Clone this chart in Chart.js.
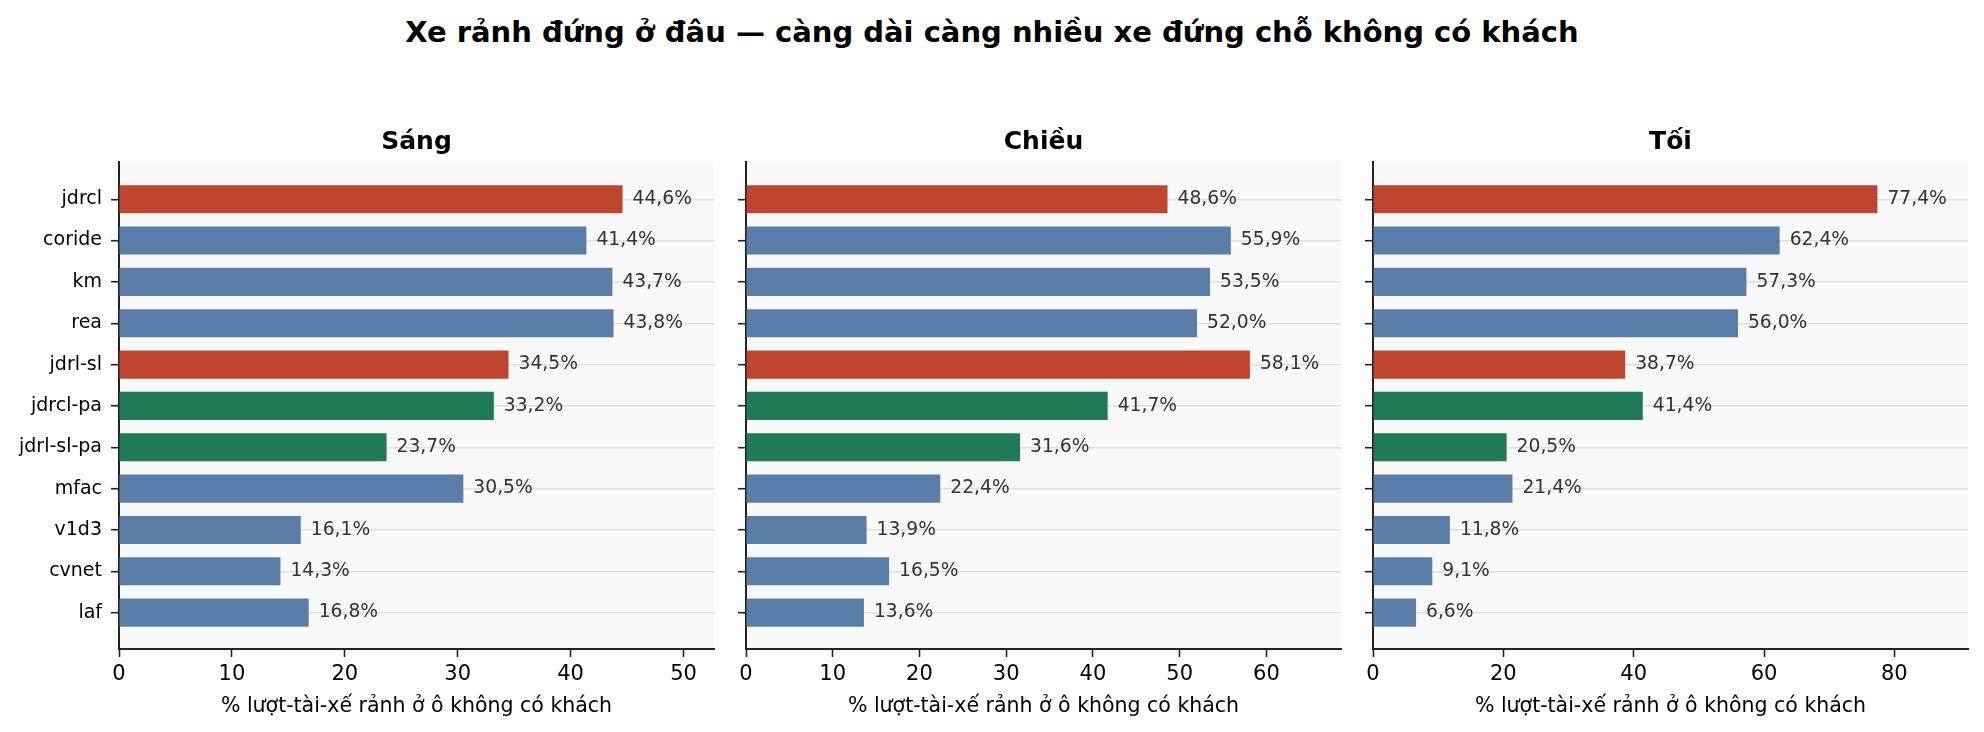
<!DOCTYPE html>
<html>
<head>
<meta charset="utf-8">
<script src="https://cdn.jsdelivr.net/npm/chart.js@4.4.1/dist/chart.umd.min.js"></script>
<style>
  html, body { margin: 0; padding: 0; background: #fff; }
  body { width: 1984px; height: 732px; position: relative; overflow: hidden; font-family: "DejaVu Sans", sans-serif; }
  #suptitle { position: absolute; left: 0; width: 1984px; top: 14px; text-align: center; font-weight: bold; font-size: 29px; line-height: 36px; color: #000; }
  canvas { position: absolute; top: 100px; }
</style>
</head>
<body>
<div id="suptitle">Xe rảnh đứng ở đâu — càng dài càng nhiều xe đứng chỗ không có khách</div>
<canvas id="c0"></canvas>
<canvas id="c1"></canvas>
<canvas id="c2"></canvas>
<script>
// data
const cats = ['jdrcl', 'coride', 'km', 'rea', 'jdrl-sl', 'jdrcl-pa', 'jdrl-sl-pa', 'mfac', 'v1d3', 'cvnet', 'laf'];
const sang  = [44.6, 41.4, 43.7, 43.8, 34.5, 33.2, 23.7, 30.5, 16.1, 14.3, 16.8];
const chieu = [48.6, 55.9, 53.5, 52.0, 58.1, 41.7, 31.6, 22.4, 13.9, 16.5, 13.6];
const toi   = [77.4, 62.4, 57.3, 56.0, 38.7, 41.4, 20.5, 21.4, 11.8, 9.1, 6.6];
const panelTitles = ['Sáng', 'Chiều', 'Tối'];
const xMax = [52.7, 68.6, 91.3];
const xStep = [10, 10, 20];
const redCats = ['jdrcl', 'jdrl-sl'];
const greenCats = ['jdrcl-pa', 'jdrl-sl-pa'];
const xTitle = '% lượt-tài-xế rảnh ở ô không có khách';

const RED = '#c0452f', GREEN = '#217a56', BLUE = '#5b7ea8';
function barColor(c) {
  if (redCats.includes(c)) return RED;
  if (greenCats.includes(c)) return GREEN;
  return BLUE;
}

Chart.defaults.font.family = '"DejaVu Sans", sans-serif';
Chart.defaults.color = '#000';

// layout of the three panels (plot area, px)
const plotLeft = [119, 746, 1373];
const plotWidth = 595;
const yAxisW = [119, 24, 24];
const canvasH = 632;      // canvas starts at y=100
const areaTop = 62, areaBottom = 549;

const plotBg = {
  id: 'plotBg',
  beforeDraw(chart) {
    const { ctx, chartArea: a } = chart;
    ctx.save();
    ctx.fillStyle = '#f9f9f9';
    ctx.fillRect(a.left, a.top, a.right - a.left, a.bottom - a.top);
    ctx.restore();
  }
};

// panel title centred over the plot area (the built-in title centres on the whole canvas)
const panelTitle = {
  id: 'panelTitle',
  afterDraw(chart, args, opts) {
    const { ctx, chartArea: a } = chart;
    ctx.save();
    ctx.font = 'bold 25px "DejaVu Sans"';
    ctx.fillStyle = '#000';
    ctx.textAlign = 'center';
    ctx.textBaseline = 'middle';
    ctx.fillText(opts.text, (a.left + a.right) / 2, a.top - 20);
    ctx.restore();
  }
};

const valueLabels = {
  id: 'valueLabels',
  afterDatasetsDraw(chart) {
    const { ctx } = chart;
    const meta = chart.getDatasetMeta(0);
    const vals = chart.data.datasets[0].data;
    ctx.save();
    ctx.font = '18.7px "DejaVu Sans"';
    ctx.fillStyle = '#333';
    ctx.textAlign = 'left';
    ctx.textBaseline = 'middle';
    meta.data.forEach((bar, i) => {
      const v = vals[i].x;
      ctx.fillText(v.toFixed(1).replace('.', ',') + '%', bar.x + 10, bar.y);
    });
    ctx.restore();
  }
};

const series = [sang, chieu, toi];

series.forEach((vals, p) => {
  const cv = document.getElementById('c' + p);
  cv.width = yAxisW[p] + plotWidth + 14;
  cv.height = canvasH;
  cv.style.left = (plotLeft[p] - yAxisW[p]) + 'px';

  new Chart(cv.getContext('2d'), {
    type: 'bar',
    data: {
      datasets: [{
        data: vals.map((v, i) => ({ x: v, y: i })),
        backgroundColor: cats.map(barColor),
        borderWidth: 0,
        barPercentage: 0.68,
        categoryPercentage: 1.0
      }]
    },
    options: {
      indexAxis: 'y',
      responsive: false,
      animation: false,
      layout: { padding: { left: 0, right: 14, top: areaTop, bottom: 0 } },
      plugins: {
        legend: { display: false },
        tooltip: { enabled: false },
        title: { display: false },
        panelTitle: { text: panelTitles[p] }
      },
      scales: {
        x: {
          type: 'linear',
          min: 0,
          max: xMax[p],
          afterFit(scale) { scale.height = canvasH - areaBottom; },
          ticks: {
            stepSize: xStep[p],
            includeBounds: false,
            maxRotation: 0,
            color: '#000',
            font: { size: 21 },
            padding: 5
          },
          grid: {
            drawOnChartArea: false,
            drawTicks: true,
            tickLength: 8,
            tickWidth: 1.6,
            tickColor: '#222'
          },
          border: { display: true, color: '#222', width: 2 },
          title: {
            display: true,
            text: xTitle,
            color: '#000',
            font: { size: 20.5, lineHeight: 1.2 },
            padding: { top: 0, bottom: 13 }
          }
        },
        y: {
          type: 'linear',
          reverse: true,
          offset: false,
          min: -0.9,
          max: cats.length - 1 + 0.88,
          afterBuildTicks(scale) { scale.ticks = cats.map((c, i) => ({ value: i })); },
          afterFit(scale) { scale.width = yAxisW[p]; },
          ticks: {
            display: p === 0,
            autoSkip: false,
            color: '#000',
            font: { size: 19 },
            padding: 9,
            callback: (v) => cats[v]
          },
          grid: {
            offset: false,
            color: '#dedee4',
            lineWidth: 1.4,
            drawTicks: true,
            tickLength: 8,
            tickWidth: 1.6,
            tickColor: '#222'
          },
          border: { display: true, color: '#222', width: 2 }
        }
      }
    },
    plugins: [plotBg, panelTitle, valueLabels]
  });
});
</script>
</body>
</html>
